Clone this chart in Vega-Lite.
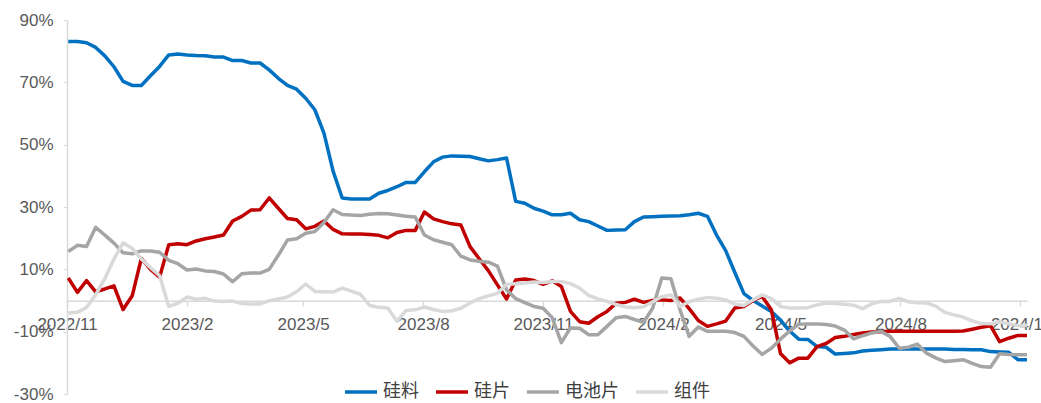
{
  "$schema": "https://vega.github.io/schema/vega-lite/v6.json",
  "autosize": "none",
  "width": 960,
  "height": 374,
  "padding": {"left": 67, "top": 20, "right": 14, "bottom": 9},
  "background": "white",
  "config": {"view": {"stroke": null}},
  "data": {"values": [
    {"date":"2022/11/02","硅料":83.1,"硅片":7.2,"电池片":15.7,"组件":-4.0},
    {"date":"2022/11/09","硅料":83.1,"硅片":2.6,"电池片":17.7,"组件":-3.8},
    {"date":"2022/11/16","硅料":82.7,"硅片":6.4,"电池片":17.3,"组件":-2.2},
    {"date":"2022/11/23","硅料":81.2,"硅片":2.8,"电池片":23.5,"组件":1.8},
    {"date":"2022/11/30","硅料":78.5,"硅片":3.7,"电池片":21.0,"组件":7.0},
    {"date":"2022/12/07","硅料":75.0,"硅片":4.7,"电池片":18.4,"组件":13.3},
    {"date":"2022/12/14","硅料":70.3,"硅片":-2.9,"电池片":15.3,"组件":18.5},
    {"date":"2022/12/21","硅料":69.0,"硅片":1.5,"电池片":15.0,"组件":16.7},
    {"date":"2022/12/28","硅料":69.0,"硅片":13.5,"电池片":15.9,"组件":13.3},
    {"date":"2023/01/04","硅料":72.1,"硅片":10.0,"电池片":15.9,"组件":10.5},
    {"date":"2023/01/11","硅料":75.1,"硅片":7.5,"电池片":15.5,"组件":8.0},
    {"date":"2023/01/18","硅料":78.8,"硅片":17.9,"电池片":12.9,"组件":-1.9},
    {"date":"2023/01/25","硅料":79.1,"硅片":18.2,"电池片":11.8,"组件":-0.9},
    {"date":"2023/02/01","硅料":78.8,"硅片":17.9,"电池片":9.8,"组件":1.1},
    {"date":"2023/02/08","硅料":78.6,"硅片":19.1,"电池片":10.1,"组件":0.4},
    {"date":"2023/02/15","硅料":78.5,"硅片":19.8,"电池片":9.5,"组件":0.7},
    {"date":"2023/02/22","硅料":78.1,"硅片":20.4,"电池片":9.3,"组件":-0.2},
    {"date":"2023/03/01","硅料":78.1,"硅片":21.0,"电池片":8.5,"组件":-0.3},
    {"date":"2023/03/08","硅料":77.0,"硅片":25.5,"电池片":6.0,"组件":-0.2},
    {"date":"2023/03/15","硅料":77.0,"硅片":27.0,"电池片":8.6,"组件":-1.0},
    {"date":"2023/03/22","硅料":76.2,"硅片":29.0,"电池片":8.8,"组件":-1.1},
    {"date":"2023/03/29","硅料":76.2,"硅片":29.1,"电池片":8.8,"组件":-1.1},
    {"date":"2023/04/05","硅料":74.0,"硅片":32.9,"电池片":10.0,"组件":-0.1},
    {"date":"2023/04/12","硅料":71.3,"硅片":29.6,"电池片":14.5,"组件":0.5},
    {"date":"2023/04/19","硅料":69.0,"硅片":26.3,"电池片":19.4,"组件":1.1},
    {"date":"2023/04/26","硅料":67.8,"硅片":25.9,"电池片":19.8,"组件":2.8},
    {"date":"2023/05/03","硅料":64.9,"硅片":23.0,"电池片":21.6,"组件":5.3},
    {"date":"2023/05/10","硅料":61.2,"硅片":23.8,"电池片":22.1,"组件":2.9},
    {"date":"2023/05/17","硅料":53.7,"硅片":25.5,"电池片":25.0,"组件":2.8},
    {"date":"2023/05/24","硅料":41.5,"硅片":22.8,"电池片":29.1,"组件":2.7},
    {"date":"2023/05/31","硅料":32.9,"硅片":21.4,"电池片":27.6,"组件":4.0},
    {"date":"2023/06/07","硅料":32.6,"硅片":21.3,"电池片":27.4,"组件":3.0},
    {"date":"2023/06/14","硅料":32.6,"硅片":21.3,"电池片":27.3,"组件":2.0},
    {"date":"2023/06/21","硅料":32.6,"硅片":21.2,"电池片":27.7,"组件":-1.6},
    {"date":"2023/06/28","硅料":34.4,"硅片":20.9,"电池片":27.9,"组件":-2.2},
    {"date":"2023/07/05","硅料":35.3,"硅片":20.1,"电池片":27.8,"组件":-2.4},
    {"date":"2023/07/12","硅料":36.5,"硅片":21.8,"电池片":27.4,"组件":-6.7},
    {"date":"2023/07/19","硅料":37.9,"硅片":22.5,"电池片":27.0,"组件":-3.2},
    {"date":"2023/07/26","硅料":37.9,"硅片":22.5,"电池片":26.8,"组件":-3.0},
    {"date":"2023/08/02","硅料":41.3,"硅片":28.4,"电池片":21.0,"组件":-2.1},
    {"date":"2023/08/09","硅料":44.5,"硅片":26.2,"电池片":19.5,"组件":-2.9},
    {"date":"2023/08/16","硅料":46.0,"硅片":25.3,"电池片":18.7,"组件":-3.5},
    {"date":"2023/08/23","硅料":46.4,"硅片":24.6,"电池片":17.9,"组件":-3.3},
    {"date":"2023/08/30","硅料":46.3,"硅片":24.2,"电池片":14.2,"组件":-2.5},
    {"date":"2023/09/06","硅料":46.2,"硅片":17.3,"电池片":13.0,"组件":-0.8},
    {"date":"2023/09/13","硅料":45.5,"硅片":13.4,"电池片":12.6,"组件":0.6},
    {"date":"2023/09/20","硅料":44.8,"硅片":9.6,"电池片":12.3,"组件":1.5},
    {"date":"2023/09/27","硅料":45.2,"硅片":5.0,"电池片":11.0,"组件":2.3},
    {"date":"2023/10/04","硅料":45.7,"硅片":0.5,"电池片":3.4,"组件":5.2},
    {"date":"2023/10/11","硅料":31.8,"硅片":6.6,"电池片":0.6,"组件":5.4},
    {"date":"2023/10/18","硅料":31.2,"硅片":6.9,"电池片":-0.7,"组件":5.6},
    {"date":"2023/10/25","硅料":29.6,"硅片":6.4,"电池片":-1.9,"组件":5.9},
    {"date":"2023/11/01","硅料":28.7,"硅片":5.2,"电池片":-2.5,"组件":5.8},
    {"date":"2023/11/08","硅料":27.5,"硅片":6.3,"电池片":-5.5,"组件":6.1},
    {"date":"2023/11/15","硅料":27.5,"硅片":4.5,"电池片":-13.5,"组件":6.1},
    {"date":"2023/11/22","硅料":28.0,"硅片":-3.5,"电池片":-8.8,"组件":5.4},
    {"date":"2023/11/29","硅料":25.9,"硅片":-6.8,"电池片":-8.9,"组件":4.0},
    {"date":"2023/12/06","硅料":25.3,"硅片":-7.3,"电池片":-11.0,"组件":1.6},
    {"date":"2023/12/13","硅料":23.9,"硅片":-5.2,"电池片":-11.0,"组件":0.5},
    {"date":"2023/12/20","硅料":22.5,"硅片":-3.5,"电池片":-8.3,"组件":-0.3},
    {"date":"2023/12/27","硅料":22.6,"硅片":-0.9,"电池片":-5.5,"组件":-1.3},
    {"date":"2024/01/03","硅料":22.7,"硅片":-0.6,"电池片":-5.1,"组件":-2.1},
    {"date":"2024/01/10","硅料":25.3,"硅片":0.4,"电池片":-6.1,"组件":-2.3},
    {"date":"2024/01/17","硅料":26.8,"硅片":-0.6,"电池片":-7.0,"组件":-2.0},
    {"date":"2024/01/24","硅料":26.9,"硅片":0.0,"电池片":-2.5,"组件":-0.4},
    {"date":"2024/01/31","硅料":27.0,"硅片":0.2,"电池片":7.2,"组件":1.2},
    {"date":"2024/02/07","硅料":27.1,"硅片":0.0,"电池片":7.0,"组件":1.8},
    {"date":"2024/02/14","硅料":27.2,"硅片":0.8,"电池片":-3.0,"组件":-1.9},
    {"date":"2024/02/21","硅料":27.5,"硅片":-2.6,"电池片":-11.5,"组件":-0.4},
    {"date":"2024/02/28","硅料":28.0,"硅片":-6.4,"电池片":-8.5,"组件":0.4},
    {"date":"2024/03/06","硅料":27.0,"硅片":-8.3,"电池片":-9.9,"组件":1.0},
    {"date":"2024/03/13","硅料":21.0,"硅片":-7.5,"电池片":-9.9,"组件":0.7},
    {"date":"2024/03/20","硅料":16.0,"硅片":-6.6,"电池片":-9.9,"组件":0.2},
    {"date":"2024/03/27","硅料":9.0,"硅片":-2.4,"电池片":-10.3,"组件":-1.2},
    {"date":"2024/04/03","硅料":2.2,"硅片":-1.9,"电池片":-11.5,"组件":-1.6},
    {"date":"2024/04/10","硅料":0.0,"硅片":0.0,"电池片":-14.6,"组件":0.2},
    {"date":"2024/04/17","硅料":-1.8,"硅片":1.3,"电池片":-17.3,"组件":1.8},
    {"date":"2024/04/24","硅料":-3.5,"硅片":-3.0,"电池片":-15.3,"组件":0.6},
    {"date":"2024/05/01","硅料":-6.3,"硅片":-17.0,"电池片":-12.4,"组件":-1.9},
    {"date":"2024/05/08","硅料":-9.8,"硅片":-20.0,"电池片":-9.8,"组件":-2.4},
    {"date":"2024/05/15","硅料":-12.4,"硅片":-18.5,"电池片":-7.6,"组件":-2.4},
    {"date":"2024/05/22","硅料":-12.5,"硅片":-18.5,"电池片":-7.5,"组件":-2.3},
    {"date":"2024/05/29","硅料":-14.8,"硅片":-14.8,"电池片":-7.5,"组件":-1.4},
    {"date":"2024/06/05","硅料":-15.0,"硅片":-13.8,"电池片":-7.7,"组件":-0.8},
    {"date":"2024/06/12","硅料":-17.2,"硅片":-11.9,"电池片":-8.2,"组件":-1.0},
    {"date":"2024/06/19","硅料":-17.0,"硅片":-11.5,"电池片":-9.5,"组件":-1.2},
    {"date":"2024/06/26","硅料":-16.8,"硅片":-10.9,"电池片":-12.3,"组件":-1.5},
    {"date":"2024/07/03","硅料":-16.2,"硅片":-10.4,"电池片":-11.3,"组件":-2.6},
    {"date":"2024/07/10","硅料":-16.0,"硅片":-10.1,"电池片":-10.4,"组件":-1.1},
    {"date":"2024/07/17","硅料":-15.8,"硅片":-10.0,"电池片":-9.9,"组件":-0.3},
    {"date":"2024/07/24","硅料":-15.6,"硅片":-9.9,"电池片":-11.5,"组件":-0.3},
    {"date":"2024/07/31","硅料":-15.6,"硅片":-9.9,"电池片":-15.3,"组件":0.7},
    {"date":"2024/08/07","硅料":-15.6,"硅片":-9.9,"电池片":-15.0,"组件":-0.4},
    {"date":"2024/08/14","硅料":-15.6,"硅片":-9.9,"电池片":-14.0,"组件":-0.7},
    {"date":"2024/08/21","硅料":-15.6,"硅片":-9.9,"电池片":-16.9,"组件":-0.8},
    {"date":"2024/08/28","硅料":-15.6,"硅片":-9.9,"电池片":-18.4,"组件":-1.8},
    {"date":"2024/09/04","硅料":-15.6,"硅片":-9.9,"电池片":-19.6,"组件":-3.8},
    {"date":"2024/09/11","硅料":-15.7,"硅片":-9.9,"电池片":-19.3,"组件":-4.6},
    {"date":"2024/09/18","硅料":-15.7,"硅片":-9.8,"电池片":-19.0,"组件":-5.3},
    {"date":"2024/09/25","硅料":-15.8,"硅片":-9.2,"电池片":-20.2,"组件":-6.5},
    {"date":"2024/10/02","硅料":-15.8,"硅片":-8.6,"电池片":-21.2,"组件":-7.4},
    {"date":"2024/10/09","硅料":-16.4,"硅片":-8.1,"电池片":-21.4,"组件":-7.5},
    {"date":"2024/10/16","硅料":-16.5,"硅片":-13.2,"电池片":-17.1,"组件":-6.8},
    {"date":"2024/10/23","硅料":-16.6,"硅片":-12.1,"电池片":-17.3,"组件":-7.5},
    {"date":"2024/10/30","硅料":-19.0,"硅片":-11.2,"电池片":-17.4,"组件":-8.0},
    {"date":"2024/11/06","硅料":-19.0,"硅片":-11.2,"电池片":-17.4,"组件":-8.0}
  ]},
  "transform": [
    {"fold": ["硅料", "硅片", "电池片", "组件"], "as": ["series", "value"]}
  ],
  "mark": {"type": "line", "strokeWidth": 3.5, "strokeJoin": "round", "strokeCap": "butt"},
  "encoding": {
    "x": {
      "field": "date",
      "type": "temporal",
      "scale": {"domain": [{"year": 2022, "month": 11, "date": 1}, {"year": 2024, "month": 11, "date": 6}]},
      "axis": {
        "title": null,
        "grid": false,
        "offset": -93.3,
        "values": [
          {"year": 2022, "month": 11, "date": 1},
          {"year": 2023, "month": 2, "date": 1},
          {"year": 2023, "month": 5, "date": 1},
          {"year": 2023, "month": 8, "date": 1},
          {"year": 2023, "month": 11, "date": 1},
          {"year": 2024, "month": 2, "date": 1},
          {"year": 2024, "month": 5, "date": 1},
          {"year": 2024, "month": 8, "date": 1},
          {"year": 2024, "month": 11, "date": 1}
        ],
        "format": "%Y/%-m",
        "labelFont": "Liberation Sans",
        "labelFontSize": 17,
        "labelColor": "#595959",
        "labelPadding": 11,
        "labelOverlap": false,
        "labelFlush": false,
        "domainColor": "#d9d9d9",
        "domainWidth": 1.5,
        "tickColor": "#d9d9d9",
        "tickWidth": 1.5,
        "tickSize": 5
      }
    },
    "y": {
      "field": "value",
      "type": "quantitative",
      "scale": {"domain": [-30, 90], "nice": false, "zero": false},
      "axis": {
        "title": null,
        "grid": false,
        "values": [-30, -10, 10, 30, 50, 70, 90],
        "labelExpr": "datum.value + '%'",
        "labelFont": "Liberation Sans",
        "labelFontSize": 17,
        "labelColor": "#595959",
        "labelPadding": 10,
        "domainColor": "#d9d9d9",
        "domainWidth": 1.5,
        "tickColor": "#d9d9d9",
        "tickSize": 4
      }
    },
    "color": {
      "field": "series",
      "type": "nominal",
      "scale": {"domain": ["硅料", "硅片", "电池片", "组件"], "range": ["#0070C0", "#C00000", "#A5A5A5", "#D9D9D9"]},
      "legend": {
        "title": null,
        "orient": "none",
        "direction": "horizontal",
        "gridAlign": "none",
        "legendX": 276,
        "legendY": 354,
        "symbolType": "stroke",
        "symbolSize": 1024,
        "symbolStrokeWidth": 3.5,
        "labelFont": "Noto Sans CJK SC",
        "labelFontSize": 18,
        "labelColor": "#404040",
        "labelOffset": 4,
        "columnPadding": 10
      }
    }
  }
}
